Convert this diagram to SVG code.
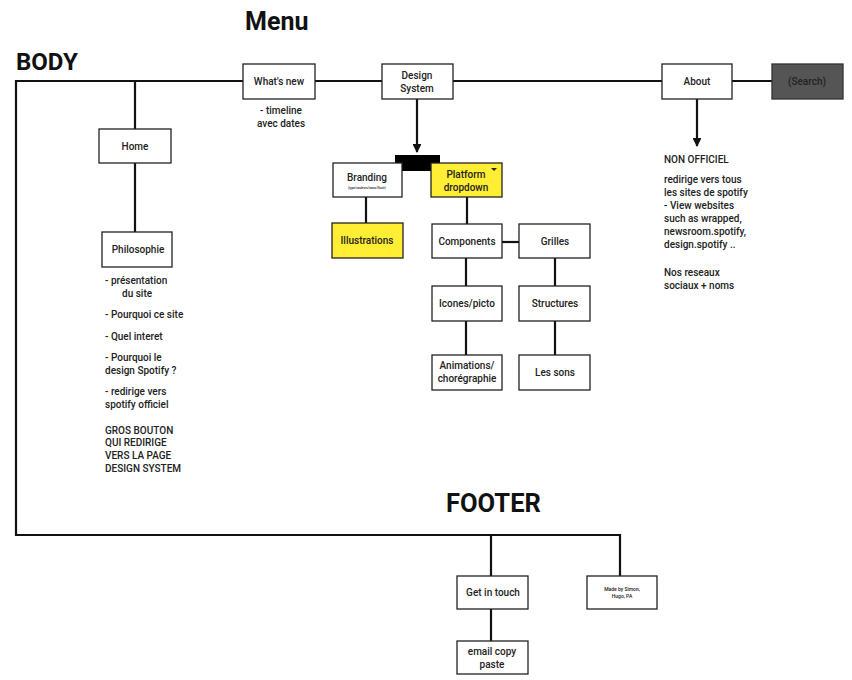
<svg xmlns="http://www.w3.org/2000/svg" width="852" height="680" viewBox="0 0 852 680">
<defs>
<style>
.bx{fill:#fff;stroke:#222;stroke-width:1.3}
.yl{fill:#ffee33;stroke:#222;stroke-width:1.3}
.t{font-family:Roboto,"Liberation Sans",sans-serif;font-size:10px;font-weight:500;fill:#222;text-anchor:middle}
.n{font-family:Roboto,"Liberation Sans",sans-serif;font-size:10px;font-weight:500;fill:#222}
.s{font-size:5px}
.xs{font-size:3px}
.h{font-family:Roboto,"Liberation Sans",sans-serif;font-weight:bold;fill:#111}
.ln{stroke:#111;stroke-width:2.2;fill:none}
</style>
<marker id="ah" viewBox="0 0 10 10" refX="9" refY="5" markerWidth="4" markerHeight="4" orient="auto"><path d="M0,0 L10,5 L0,10 z" fill="#111"/></marker>
</defs>
<rect width="852" height="680" fill="#fff"/>
<text class="h" x="16" y="70" style="font-size:24px">BODY</text>
<text class="h" x="245" y="30" style="font-size:25px">Menu</text>
<text class="h" x="446" y="512" style="font-size:25.5px">FOOTER</text>
<g id="connectors">
<polyline class="ln" points="243,81 16,81 16,535 620,535 620,576"/>
<line class="ln" x1="135" y1="81" x2="135" y2="129"/>
<line class="ln" x1="135" y1="163" x2="135" y2="232"/>
<line class="ln" x1="315" y1="81" x2="382" y2="81"/>
<line class="ln" x1="453" y1="81" x2="662" y2="81"/>
<line class="ln" x1="732" y1="81" x2="772" y2="81"/>
<line class="ln" x1="417" y1="99" x2="417" y2="152" marker-end="url(#ah)"/>
<line class="ln" x1="697" y1="99" x2="697" y2="146" marker-end="url(#ah)"/>
<line class="ln" x1="366" y1="197" x2="366" y2="223"/>
<line class="ln" x1="467" y1="197" x2="467" y2="224"/>
<line class="ln" x1="502" y1="242" x2="519" y2="242"/>
<line class="ln" x1="466" y1="258" x2="466" y2="286"/>
<line class="ln" x1="466" y1="321" x2="466" y2="355"/>
<line class="ln" x1="555" y1="258" x2="555" y2="286"/>
<line class="ln" x1="555" y1="321" x2="555" y2="355"/>
<line class="ln" x1="491" y1="535" x2="491" y2="576"/>
<line class="ln" x1="491" y1="609" x2="491" y2="641"/>
</g>
<g id="whatsnew"><rect class="bx" x="243" y="64" width="72" height="35"/><text class="t" x="279" y="85">What's new</text>
<text class="t" x="281" y="114">- timeline</text><text class="t" x="281" y="127">avec dates</text></g>
<g id="home"><rect class="bx" x="99" y="129" width="72" height="34"/><text class="t" x="135" y="150">Home</text></g>
<g id="philosophie"><rect class="bx" x="102" y="232" width="70" height="35"/><text class="t" x="138" y="253">Philosophie</text>
<text class="n" x="105" y="284">- présentation</text>
<text class="n" x="122" y="297">du site</text>
<text class="n" x="105" y="318">- Pourquoi ce site</text>
<text class="n" x="105" y="340">- Quel interet</text>
<text class="n" x="105" y="361">- Pourquoi le</text>
<text class="n" x="105" y="374">design Spotify ?</text>
<text class="n" x="105" y="395">- redirige vers</text>
<text class="n" x="105" y="408">spotify officiel</text>
<text class="n" x="105" y="434">GROS BOUTON</text>
<text class="n" x="105" y="446">QUI REDIRIGE</text>
<text class="n" x="105" y="459">VERS LA PAGE</text>
<text class="n" x="105" y="472">DESIGN SYSTEM</text></g>
<g id="designsystem"><rect class="bx" x="382" y="64" width="71" height="35"/><text class="t" x="417" y="79">Design</text><text class="t" x="417" y="92">System</text></g>
<g id="about"><rect class="bx" x="662" y="64" width="70" height="35"/><text class="t" x="697" y="85">About</text></g>
<g id="search"><rect x="772" y="64" width="71" height="35" fill="#555" stroke="#333" stroke-width="1.3"/><text class="t" x="807" y="85" fill="#222">(Search)</text></g>
<g id="about-notes">
<text class="n" x="664" y="163">NON OFFICIEL</text>
<text class="n" x="664" y="183">redirige vers tous</text>
<text class="n" x="664" y="196">les sites de spotify</text>
<text class="n" x="664" y="209">- View websites</text>
<text class="n" x="664" y="222">such as wrapped,</text>
<text class="n" x="664" y="235">newsroom.spotify,</text>
<text class="n" x="664" y="248">design.spotify ..</text>
<text class="n" x="664" y="276">Nos reseaux</text>
<text class="n" x="664" y="289">sociaux + noms</text></g>
<g id="bar"><rect x="395" y="155" width="45" height="16" fill="#000"/></g>
<g id="branding"><rect class="bx" x="333" y="163" width="69" height="34"/><text class="t" x="367" y="181">Branding</text><text class="t xs" x="367" y="189">(typo/couleurs/icons/illustr)</text></g>
<g id="platform"><rect class="yl" x="431" y="163" width="71" height="34"/><text class="t" x="466" y="178">Platform</text><text class="t" x="466" y="191">dropdown</text><path d="M491,168 L497,168 L494,171 z" fill="#222"/></g>
<g id="illustrations"><rect class="yl" x="332" y="223" width="71" height="35"/><text class="t" x="367" y="244">Illustrations</text></g>
<g id="components"><rect class="bx" x="432" y="224" width="70" height="34"/><text class="t" x="467" y="245">Components</text></g>
<g id="grilles"><rect class="bx" x="519" y="224" width="71" height="34"/><text class="t" x="555" y="245">Grilles</text></g>
<g id="icones"><rect class="bx" x="432" y="286" width="70" height="35"/><text class="t" x="467" y="307">Icones/picto</text></g>
<g id="structures"><rect class="bx" x="519" y="286" width="71" height="35"/><text class="t" x="555" y="307">Structures</text></g>
<g id="animations"><rect class="bx" x="432" y="355" width="70" height="35"/><text class="t" x="467" y="369">Animations/</text><text class="t" x="467" y="382">chorégraphie</text></g>
<g id="sons"><rect class="bx" x="519" y="355" width="71" height="35"/><text class="t" x="555" y="376">Les sons</text></g>
<g id="getintouch"><rect class="bx" x="457" y="576" width="71" height="33"/><text class="t" x="493" y="596">Get in touch</text></g>
<g id="email"><rect class="bx" x="457" y="641" width="71" height="33"/><text class="t" x="492" y="655">email copy</text><text class="t" x="492" y="668">paste</text></g>
<g id="madeby"><rect class="bx" x="587" y="576" width="70" height="33"/><text class="t s" x="622" y="591">Made by Simon,</text><text class="t s" x="622" y="598">Hugo, PA</text></g>
</svg>
